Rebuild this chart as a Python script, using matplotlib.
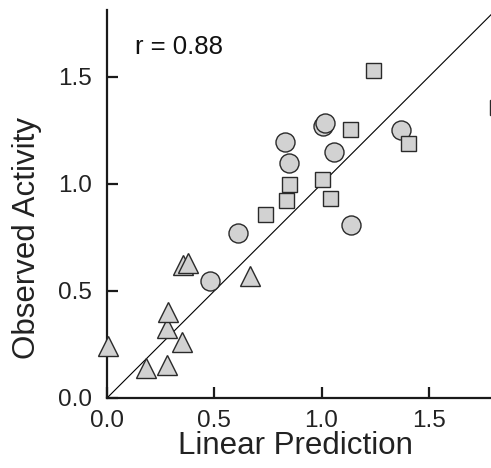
import matplotlib
matplotlib.use("Agg")
import matplotlib.pyplot as plt

plt.rcParams['font.family'] = ['Liberation Sans', 'DejaVu Sans']

# squares
sq_x = [0.738, 0.835, 1.040, 0.850, 1.002, 1.133, 1.403, 1.238, 1.820]
sq_y = [0.858, 0.925, 0.935, 0.998, 1.022, 1.257, 1.193, 1.530, 1.360]

# circles
ci_x = [0.482, 0.611, 1.139, 0.850, 1.058, 0.830, 1.369, 1.005, 1.018]
ci_y = [0.547, 0.772, 0.807, 1.098, 1.150, 1.195, 1.252, 1.271, 1.286]

# triangles
tr_x = [0.006, 0.180, 0.278, 0.350, 0.278, 0.286, 0.668, 0.353, 0.379]
tr_y = [0.244, 0.139, 0.153, 0.260, 0.326, 0.402, 0.570, 0.621, 0.629]

ticks = [0.0, 0.5, 1.0, 1.5]
tick_labels = ["0.0", "0.5", "1.0", "1.5"]
r_text = "r = 0.88"

fig = plt.figure(figsize=(4.91, 4.68), dpi=100)
ax = fig.add_axes([0.218, 0.1496, 0.83, 0.828])
ax.set_xlim(0, 1.9)
ax.set_ylim(0, 1.81)

# identity line
ax.plot([0, 1.9], [0, 1.9], color="black", lw=0.8, zorder=2)

face = "#d2d2d2"
edge = "#2a2a2a"
ax.plot(tr_x, tr_y, "^", ms=14.5, mfc=face, mec=edge, mew=1.0, ls="none",
        clip_on=False, zorder=5)
ax.plot(ci_x, ci_y, "o", ms=13.7, mfc=face, mec=edge, mew=1.0, ls="none",
        clip_on=False, zorder=5)
ax.plot(sq_x, sq_y, "s", ms=10.8, mfc=face, mec=edge, mew=1.0, ls="none",
        clip_on=False, zorder=5)

for s in ["top", "right"]:
    ax.spines[s].set_visible(False)
for s in ["left", "bottom"]:
    ax.spines[s].set_linewidth(1.6)
    ax.spines[s].set_color("#1a1a1a")

ax.set_xticks(ticks)
ax.set_xticklabels(tick_labels)
ax.set_yticks(ticks)
ax.set_yticklabels(tick_labels)
ax.set_yticks([0.0], minor=True)
ax.tick_params(direction="in", length=8, width=1.6, labelsize=17.5,
               labelcolor="#222222", color="#1a1a1a")
ax.tick_params(axis="y", which="minor", direction="out", length=4, width=1,
               labelleft=False)
ax.tick_params(axis="x", pad=9)
ax.tick_params(axis="y", which="major", pad=11)

fig.text(135 / 491, 1 - 47 / 468, r_text, fontsize=18.5, color="#111111",
         ha="left", va="center")
fig.text(295 / 491, 1 - 446 / 468, "Linear Prediction", fontsize=22.5,
         color="#222222", ha="center", va="center")
fig.text(27 / 491, 1 - 238 / 468, "Observed Activity", fontsize=22.5,
         color="#222222", ha="center", va="center", rotation=90)

fig.savefig("out.png", dpi=100)
